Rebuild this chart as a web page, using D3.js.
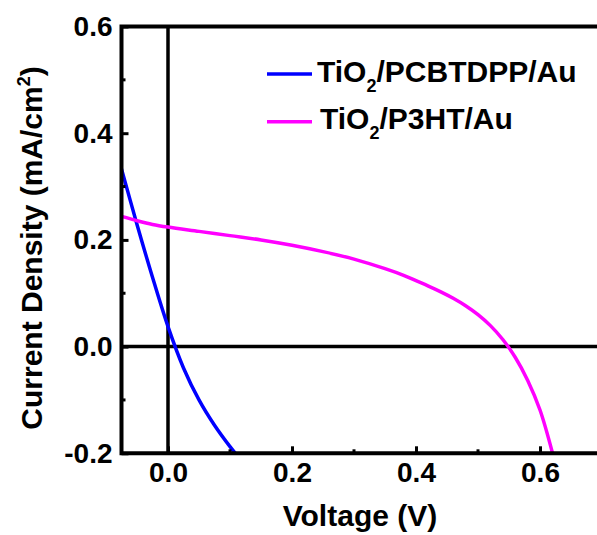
<!DOCTYPE html>
<html>
<head>
<meta charset="utf-8">
<script src="https://cdn.jsdelivr.net/npm/d3@7"></script>
<style>
  body { margin: 0; background: #fff; }
  text { font-family: "Liberation Sans", Arial, sans-serif; font-weight: bold; fill: #000; }
</style>
</head>
<body>
<div id="vis"></div>
<script>
const W = 597, H = 535;
const margin = {top: 26.5, left: 121.5};
const plotBottom = 453.3;

// data
const blueV = [-0.075, -0.05, -0.025, 0.0, 0.025, 0.05, 0.075, 0.1, 0.125];
const blueJ = [0.333, 0.229, 0.130, 0.0375, -0.040, -0.100, -0.1475, -0.1875, -0.223];
const pinkV = [-0.075, -0.05, -0.025, 0, 0.05, 0.1, 0.15, 0.2, 0.25, 0.3, 0.35, 0.38, 0.40, 0.42, 0.44, 0.46, 0.48, 0.50, 0.52, 0.54, 0.56, 0.58, 0.60, 0.62];
const pinkJ = [0.244, 0.236, 0.229, 0.224, 0.216, 0.208, 0.200, 0.190, 0.178, 0.164, 0.146, 0.1335, 0.1235, 0.1135, 0.1027, 0.0907, 0.0767, 0.0599, 0.0393, 0.0133, -0.0199, -0.0629, -0.1189, -0.1989];
const seriesNames = ["PCBTDPP", "P3HT"];
const seriesColors = ["#0000ff", "#ff00ff"];
const xMajor = [0.0, 0.2, 0.4, 0.6], xMinor = [0.1, 0.3, 0.5];
const yMajor = [-0.2, 0.0, 0.2, 0.4, 0.6], yMinor = [-0.1, 0.1, 0.3, 0.5];

const x = d3.scaleLinear().domain([-0.075, 0.7]).range([margin.left, margin.left + 0.775 * 620]);
const y = d3.scaleLinear().domain([-0.2, 0.6]).range([plotBottom, margin.top]);
const fmt = d => d.toFixed(1); // plain hyphen for negatives, like the original

const svg = d3.select('#vis').append('svg')
    .attr('width', W).attr('height', H);

svg.append('clipPath').attr('id', 'clip')
  .append('rect')
    .attr('x', x(-0.075)).attr('y', y(0.6))
    .attr('width', W - x(-0.075)).attr('height', y(-0.2) - y(0.6));

// zero lines
svg.append('line')
    .attr('x1', x(0)).attr('x2', x(0)).attr('y1', y(0.6)).attr('y2', y(-0.2))
    .attr('stroke', '#000').attr('stroke-width', 3.5);
svg.append('line')
    .attr('x1', x(-0.075)).attr('x2', W).attr('y1', y(0)).attr('y2', y(0))
    .attr('stroke', '#000').attr('stroke-width', 3.5);

// curves
const line = d3.line().x(d => x(d[0])).y(d => y(d[1])).curve(d3.curveCatmullRom.alpha(0.5));
const series = [d3.zip(blueV, blueJ), d3.zip(pinkV, pinkJ)];
svg.append('g').attr('clip-path', 'url(#clip)')
  .selectAll('path').data(series).enter().append('path')
    .attr('d', line)
    .attr('fill', 'none')
    .attr('stroke', (d, i) => seriesColors[i])
    .attr('stroke-width', 3.5);

// axes
function styleAxis(g) {
  g.select('.domain').remove();
  g.selectAll('line').attr('stroke', '#000').attr('stroke-width', 3);
  g.selectAll('text').style('font-size', '28px');
}

const xAxis = svg.append('g').attr('transform', `translate(0,${plotBottom})`)
    .call(d3.axisBottom(x).tickValues(xMajor).tickSize(-7).tickPadding(9).tickFormat(fmt));
styleAxis(xAxis);
xAxis.selectAll('.minor').data(xMinor).enter().append('line')
    .attr('x1', d => x(d)).attr('x2', d => x(d)).attr('y1', 0).attr('y2', -4)
    .attr('stroke', '#000').attr('stroke-width', 3);

const yAxis = svg.append('g').attr('transform', `translate(${margin.left},0)`)
    .call(d3.axisLeft(y).tickValues(yMajor).tickSize(-7).tickPadding(9).tickFormat(fmt));
styleAxis(yAxis);
yAxis.selectAll('.minor').data(yMinor).enter().append('line')
    .attr('y1', d => y(d)).attr('y2', d => y(d)).attr('x1', 0).attr('x2', 4)
    .attr('stroke', '#000').attr('stroke-width', 3);

// frame: left, bottom, top
svg.append('path')
    .attr('d', `M${W},${y(0.6)}H${x(-0.075)}V${plotBottom}H${W}`)
    .attr('fill', 'none').attr('stroke', '#000').attr('stroke-width', 4);

// axis titles
svg.append('text')
    .attr('x', 360).attr('y', 526)
    .attr('text-anchor', 'middle')
    .style('font-size', '30px')
    .text('Voltage (V)');

const yt = svg.append('text')
    .attr('transform', 'translate(42,248) rotate(-90)')
    .attr('text-anchor', 'middle')
    .style('font-size', '30px');
yt.append('tspan').text('Current Density (mA/cm');
yt.append('tspan').attr('dy', -12).style('font-size', '18px').text('2');
yt.append('tspan').attr('dy', 12).text(')');

// legend
const legend = svg.append('g');
const legendY = [74, 121.7];
seriesNames.forEach((name, i) => {
  legend.append('line')
      .attr('x1', 267).attr('x2', 312)
      .attr('y1', legendY[i]).attr('y2', legendY[i])
      .attr('stroke', seriesColors[i]).attr('stroke-width', 3.5);
  const t = legend.append('text')
      .attr('x', 317 + i * 3).attr('y', legendY[i] + 7.5)
      .style('font-size', '30px');
  t.append('tspan').text('TiO');
  t.append('tspan').attr('dy', 10).style('font-size', '18px').text('2');
  t.append('tspan').attr('dy', -10).text('/' + name + '/Au');
});
</script>
</body>
</html>
